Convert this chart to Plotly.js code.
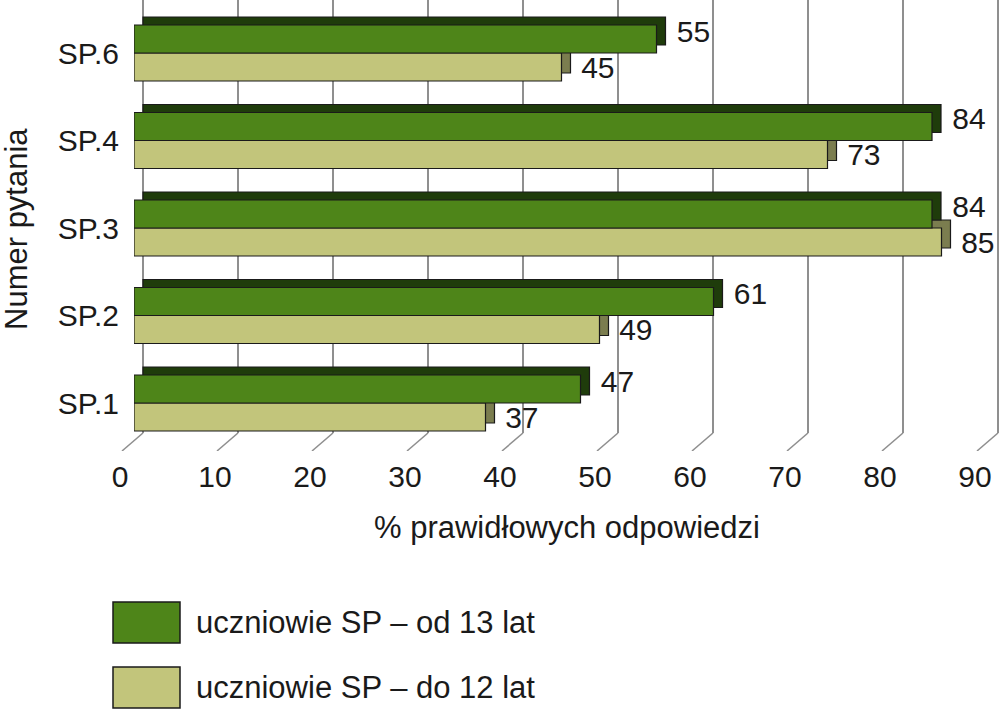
<!DOCTYPE html>
<html>
<head>
<meta charset="utf-8">
<script src="https://cdn.plot.ly/plotly-3.0.1.min.js"></script>
<style>html,body{margin:0;padding:0;background:#fff;}#chart{width:1000px;height:710px;}</style>
</head>
<body>
<div id="chart"></div>
<script>
// ---- data ----
const categories = ["SP.1", "SP.2", "SP.3", "SP.4", "SP.6"];
const seriesOlder = [47, 61, 84, 84, 55];   // uczniowie SP – od 13 lat
const seriesYounger = [37, 49, 85, 73, 45]; // uczniowie SP – do 12 lat
const nameOlder = "uczniowie SP – od 13 lat";
const nameYounger = "uczniowie SP – do 12 lat";
const xTicks = [0, 10, 20, 30, 40, 50, 60, 70, 80, 90];
const xTitle = "% prawidłowych odpowiedzi";
const yTitle = "Numer pytania";

// ---- geometry (pixels) ----
const W = 1000, H = 710;
const PX = 9.5;        // px per percent
const CAT = 87.5;      // px per category
const XF0 = 134;       // front plane x of value 0
const YF0 = 403;       // front plane y of first category
const DX = 9, DY = 8;  // 3-D depth offset
const FLOOR = 441;     // front floor y
const DIAG_X = 21, DIAG_Y = 18;

const FONT = "Liberation Sans, Arial, Helvetica, sans-serif";
const TXT = "#1a1a1a";
const C_DARK = "#4e8519", C_DARK_SIDE = "#1f3c0b";
const C_LIGHT = "#c2c57b", C_LIGHT_SIDE = "#7b7d4f";
const EDGE = "#1a1a1a";
const GRID = "#8f8f8f";

function domX(p0, p1) { return [p0 / W, p1 / W]; }
function domY(top, bottom) { return [(H - bottom) / H, (H - top) / H]; }
function rangeX(p0, p1, zero) { return [(p0 - zero) / PX, (p1 - zero) / PX]; }
function rangeY(top, bottom, y0) { return [(y0 - bottom) / CAT, (y0 - top) / CAT]; }

const pos = categories.map((c, i) => i);

// back plane (depth faces + grid)
const XB0 = XF0 + DX, YB0 = YF0 - DY, FLOOR_B = FLOOR - DY;
const labelFont = { family: FONT, size: 30, color: TXT };

const traces = [];
// depth faces in back subplot
traces.push({
  type: "bar", orientation: "h", x: seriesYounger, y: pos, xaxis: "x", yaxis: "y",
  marker: { color: C_LIGHT_SIDE, line: { color: EDGE, width: 1.2 } },
  hoverinfo: "skip", showlegend: false
});
traces.push({
  type: "bar", orientation: "h", x: seriesOlder, y: pos, xaxis: "x", yaxis: "y",
  marker: { color: C_DARK_SIDE, line: { color: EDGE, width: 1.2 } },
  texttemplate: "\u00a0%{x}", textposition: "outside",
  constraintext: "none", cliponaxis: false, textfont: labelFont,
  hoverinfo: "skip", showlegend: false
});
// front faces
traces.push({
  type: "bar", orientation: "h", name: nameYounger, x: seriesYounger, y: pos, xaxis: "x2", yaxis: "y2",
  marker: { color: C_LIGHT, line: { color: EDGE, width: 1.2 } },
  texttemplate: "\u00a0\u00a0%{x}", textposition: "outside",
  constraintext: "none", cliponaxis: false, textfont: labelFont, showlegend: false
});
traces.push({
  type: "bar", orientation: "h", name: nameOlder, x: seriesOlder, y: pos, xaxis: "x2", yaxis: "y2",
  marker: { color: C_DARK, line: { color: EDGE, width: 1.2 } },
  showlegend: false
});
// floor diagonal tick marks
const dx = [], dy = [];
xTicks.forEach(t => { dx.push(t, t - DIAG_X / PX, null); dy.push(1, 0, null); });
traces.push({
  type: "scatter", mode: "lines", x: dx, y: dy, xaxis: "x3", yaxis: "y3",
  line: { color: GRID, width: 1.5 }, hoverinfo: "skip", showlegend: false
});

const layout = {
  width: W, height: H,
  margin: { l: 0, r: 0, t: 0, b: 0 },
  paper_bgcolor: "#ffffff", plot_bgcolor: "rgba(0,0,0,0)",
  barmode: "group", bargap: 0.36, bargroupgap: 0,
  showlegend: false,
  font: { family: FONT, color: TXT, size: 30 },
  xaxis: {
    domain: domX(113, 1000), range: rangeX(113, 1000, XB0), anchor: "y",
    tickvals: xTicks, showgrid: true, gridcolor: GRID, gridwidth: 1.5,
    showticklabels: false, zeroline: false, showline: false, ticks: "", fixedrange: true
  },
  yaxis: {
    domain: domY(0, FLOOR_B), range: rangeY(0, FLOOR_B, YB0), anchor: "x",
    showgrid: false, showticklabels: false, zeroline: false, showline: false, ticks: "", fixedrange: true
  },
  xaxis2: {
    domain: domX(XF0, 1000), range: rangeX(XF0, 1000, XF0), anchor: "y2",
    tickvals: xTicks, ticktext: xTicks.map(String), showgrid: false, zeroline: false, showline: false,
    ticks: "", ticklabelshift: -14, ticklabelstandoff: 15,
    tickfont: { family: FONT, size: 30, color: TXT },
    title: { text: xTitle, font: { family: FONT, size: 31, color: TXT }, standoff: 24 },
    fixedrange: true
  },
  yaxis2: {
    domain: domY(0, FLOOR), range: rangeY(0, FLOOR, YF0), anchor: "x2",
    tickvals: pos, ticktext: categories, showgrid: false, zeroline: false, showline: false,
    ticks: "", ticklabelstandoff: 14,
    tickfont: { family: FONT, size: 30, color: TXT },
    fixedrange: true
  },
  xaxis3: {
    domain: domX(113, 1000), range: rangeX(113, 1000, XB0), anchor: "y3", visible: false, fixedrange: true
  },
  yaxis3: {
    domain: domY(FLOOR_B, FLOOR_B + DIAG_Y), range: [0, 1], anchor: "x3", visible: false, fixedrange: true
  },
  shapes: [
    { type: "rect", xref: "paper", yref: "paper", x0: 113 / W, x1: 180 / W, y0: (H - 643) / H, y1: (H - 602) / H,
      fillcolor: C_DARK, line: { color: EDGE, width: 1.5 } },
    { type: "rect", xref: "paper", yref: "paper", x0: 113 / W, x1: 180 / W, y0: (H - 708) / H, y1: (H - 667) / H,
      fillcolor: C_LIGHT, line: { color: EDGE, width: 1.5 } }
  ],
  annotations: [
    { xref: "paper", yref: "paper", x: 16 / W, y: (H - 229) / H, xanchor: "center", yanchor: "middle",
      text: yTitle, textangle: -90, showarrow: false, font: { family: FONT, size: 31, color: TXT } },
    { xref: "paper", yref: "paper", x: 194 / W, y: (H - 622) / H, xanchor: "left", yanchor: "middle",
      text: nameOlder, showarrow: false, font: { family: FONT, size: 31, color: TXT } },
    { xref: "paper", yref: "paper", x: 194 / W, y: (H - 687) / H, xanchor: "left", yanchor: "middle",
      text: nameYounger, showarrow: false, font: { family: FONT, size: 31, color: TXT } }
  ]
};

Plotly.newPlot("chart", traces, layout, { displayModeBar: false, staticPlot: true });
</script>
</body>
</html>
